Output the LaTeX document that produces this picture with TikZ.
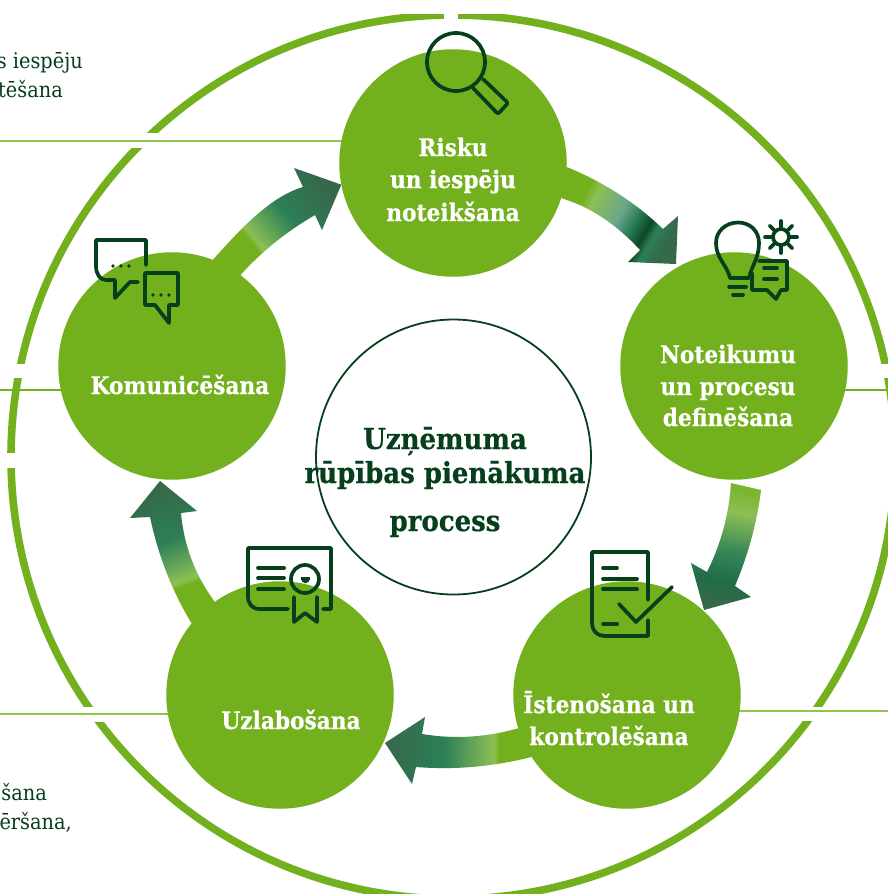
\documentclass[tikz,border=0pt]{standalone}
\usepackage{fontspec}
\setmainfont[BoldFeatures={FakeBold=0.5}]{DejaVu Serif Condensed}
\definecolor{lime}{HTML}{72B11D}
\definecolor{lineg}{HTML}{8FC450}
\definecolor{dk}{HTML}{063F1C}
\definecolor{lt}{HTML}{8CBF55}
\definecolor{mid}{HTML}{2C7F58}
\definecolor{tipc}{HTML}{36684A}
\pgfdeclarehorizontalshading{aone}{100bp}{color(0bp)=(lime);color(25bp)=(lime);color(36bp)=(lime);color(38bp)=(lt);color(55bp)=(mid);color(75bp)=(tipc);color(100bp)=(tipc)}
\pgfdeclarehorizontalshading{atwo}{100bp}{color(0bp)=(lime);color(25bp)=(lime);color(31bp)=(lime);color(36bp)=(lt);color(50bp)=(mid!70!white);color(57bp)=(mid);color(64bp)=(dk!85!mid);color(68bp)=(mid);color(75bp)=(tipc);color(100bp)=(tipc)}
\pgfdeclarehorizontalshading{athree}{100bp}{color(0bp)=(lt);color(25bp)=(lime!70!lt);color(35bp)=(lt);color(52bp)=(mid!90!lt);color(65bp)=(mid!70!dk);color(75bp)=(tipc);color(100bp)=(tipc)}
\tikzset{
  disc/.style={circle,fill=lime,draw=none,minimum size=227.5pt,inner sep=0pt,outer sep=0pt},
  hub/.style={circle,draw=dk,line width=1.8pt,minimum size=275pt,inner sep=0pt,fill=white},
  band/.style={line width=2.4pt,draw=lineg},
  gapbar/.style={fill=white,draw=none},
  ringline/.style={draw=lime,line width=7.6pt},
  icon/.style={draw=dk,line width=3.7pt,line cap=round,line join=round},
  steptext/.style={text=white,font=\fontsize{24.1}{28}\selectfont\bfseries,anchor=base,inner sep=0pt},
  hubtext/.style={text=dk,font=\fontsize{28.9}{32}\selectfont\bfseries,anchor=base,inner sep=0pt},
  sidetext/.style={text=dk,font=\fontsize{21.5}{24}\selectfont,anchor=base east,inner sep=0pt},
  blockarrow/.style={draw=none}
}
\begin{document}
\begin{tikzpicture}[x=1pt,y=-1pt]
\useasboundingbox (0,0) rectangle (888,894);
\clip (0,0) rectangle (888,894);
\fill[white] (0,0) rectangle (888,894);
% centres
\coordinate (cR) at (453,163);
\coordinate (cN) at (734,366);
\coordinate (cI) at (627,695);
\coordinate (cU) at (280,695);
\coordinate (cK) at (172,366);
% outer ring
\coordinate (cO) at (453,457);
\draw[ringline] (cO) circle [radius=442pt];
\fill[gapbar] (300,0) rectangle (640,14);
\fill[gapbar] (443.5,0) rectangle (457.5,30);
\fill[gapbar] (120,133) rectangle (175,148);
\fill[gapbar] (0,363.5) rectangle (35,378);
\fill[gapbar] (0,453) rectangle (30,468);
\fill[gapbar] (860,363.5) rectangle (888,378);
\fill[gapbar] (65,707) rectangle (115,722);
\fill[gapbar] (790,707) rectangle (845,721);
% horizontal rules
\coordinate (r1) at (0,141);
\coordinate (r2) at (0,390);
\coordinate (r3) at (888,390);
\coordinate (r4) at (0,714);
\coordinate (r5) at (888,711);
\draw[band] (r1) -- (r1 -| cR);
\draw[band,draw=lime] (r2) -- (r2 -| cK);
\draw[band,draw=lime] (r3) -- (r3 -| cN);
\draw[band] (r4) -- (r4 -| cU);
\draw[band] (r5) -- (r5 -| cI);
% discs
\node[disc] (nR) at (cR) {};
\node[disc] (nN) at (cN) {};
\node[disc] (nI) at (cI) {};
\node[disc] (nU) at (cU) {};
\node[disc] (nK) at (cK) {};
\node[hub] (nH) at (453.5,457) {};
% block arrows
\shade[blockarrow,shading=aone,shading angle=40]
  (nK.69) .. controls (239,231) and (269,197) .. (303,187) -- (294,168) -- (nR.191) -- (322,230) -- (315,215)
  .. controls (286,232) and (261,252) .. (nK.53) -- cycle;
\shade[blockarrow,shading=atwo,shading angle=-30]
  (nR.-2.5) .. controls (601,181) and (634,201) .. (663,229) -- (678,216) -- (676,264) -- (628,262) -- (640,250)
  .. controls (617,225) and (591,207) .. (nR.-18) -- cycle;
\shade[blockarrow,shading=athree,shading angle=-100]
  (731,483) .. controls (729,514) and (721,544) .. (707,572) -- (691,563) -- (704,610) -- (751,597) -- (735,586)
  .. controls (748,555) and (757,523) .. (761,490) -- cycle;
\shade[blockarrow,shading=aone,shading angle=180]
  (nI.197) .. controls (484,738) and (452,739) .. (422,734) -- (425,717) -- (385,743) -- (412,784) -- (416,767)
  .. controls (454,770) and (492,767) .. (nI.213) -- cycle;
\shade[blockarrow,shading=aone,shading angle=110]
  (nU.125.4) .. controls (195,575) and (184,546) .. (181,513) -- (197,511) -- (160,481) -- (130,518) -- (150,517)
  .. controls (158,555) and (172,591) .. (nU.141) -- cycle;
% step labels
\node[steptext] (t1a) at (453,156) {Risku};
\node[steptext] (t1b) at (453,188) {un iespēju};
\node[steptext] (t1c) at (453,221) {noteikšana};
\node[steptext] (t2a) at (728,363) {Noteikumu};
\node[steptext] (t2b) at (728,395) {un procesu};
\node[steptext] (t2c) at (728,426) {definēšana};
\node[steptext] (t3a) at (609,713) {Īstenošana un};
\node[steptext] (t3b) at (609,745) {kontrolēšana};
\node[steptext] (t4) at (291,729) {Uzlabošana};
\node[steptext] (t5) at (180,394) {Komunicēšana};
% hub labels
\node[hubtext] (h1) at (445,449) {Uzņēmuma};
\node[hubtext] (h2) at (445,483) {rūpības pienākuma};
\node[hubtext] (h3) at (445,531) {process};
% side text
\node[sidetext] (s1) at (83,68) {s iespēju};
\node[sidetext] (s2) at (63,97) {tēšana};
\node[sidetext] (s3) at (47,800) {šana};
\node[sidetext] (s4) at (72,829) {ēršana,};
% magnifier
\draw[icon] (456,62) circle [radius=29];
\draw[icon,rounded corners=2pt] (483,79) -- (508,103) -- (498,114) -- (473,88);
% bulb icon
\draw[icon] (730,278) .. controls (727,265) and (716,258) .. (716,243)
  .. controls (716,231) and (726,222.5) .. (738,222.5) .. controls (750,222.5) and (759,231) .. (759,243)
  .. controls (759,258) and (752,265) .. (749,278) -- cycle;
\draw[icon] (729,287) -- (746,287);
\draw[icon] (733,295) -- (743,295);
\draw[icon] (781,237) circle [radius=8];
\foreach \a in {0,45,...,315} \draw[icon] (781,237) ++(\a:8) -- ++(\a:8);
\draw[icon,fill=lime] (759,261) -- (787,261) -- (787,290) -- (781,290) -- (776,299) -- (767,290) -- (752,290) -- (752,273);
\draw[icon] (764,268) -- (777,268);
\draw[icon] (764,279) -- (777,279);
% document icon
\draw[icon] (648,600) -- (648,552) -- (592,552) -- (592,622) .. controls (592,631) and (597,636) .. (606,636) -- (648,636) -- (648,620);
\draw[icon] (603,568) -- (617,568);
\draw[icon] (603,579) -- (637,579);
\draw[icon] (603,589) -- (637,589);
\draw[icon] (603,624) -- (617,624);
\draw[icon] (619,604) -- (636,622) -- (672,587);
% certificate icon
\draw[icon] (288,609) -- (260,609) .. controls (252,609) and (248,604) .. (248,596) -- (248,548) -- (331,548) -- (331,609) -- (323,609);
\draw[icon] (258,568) -- (284,568);
\draw[icon] (258,578) -- (284,578);
\draw[icon] (258,589) -- (284,589);
\draw[icon] (305,579) circle [radius=14];
\fill[dk] (300.5,577) rectangle (310,579.5);
\fill[dk] (301,578) .. controls (302,585) and (309,585) .. (310,578) -- cycle;
\draw[icon] (294,597) -- (294,622) -- (305,613) -- (317,622) -- (317,597);
% chat icon
\draw[icon] (146,265) -- (146,240) -- (96,240) -- (96,266) .. controls (96,274) and (100,280) .. (106,280) -- (115,280) -- (115,298) -- (130,282) -- (138,282);
\draw[icon] (145,273) -- (178,273) -- (178,305) -- (169,305) -- (169,323) -- (155,305) -- (145,305) -- cycle;
\foreach \x in {113,121,129} \fill[dk] (\x,266) circle [radius=1.8];
\foreach \x in {153,161,169} \fill[dk] (\x,295) circle [radius=1.8];
\end{tikzpicture}
\end{document}
